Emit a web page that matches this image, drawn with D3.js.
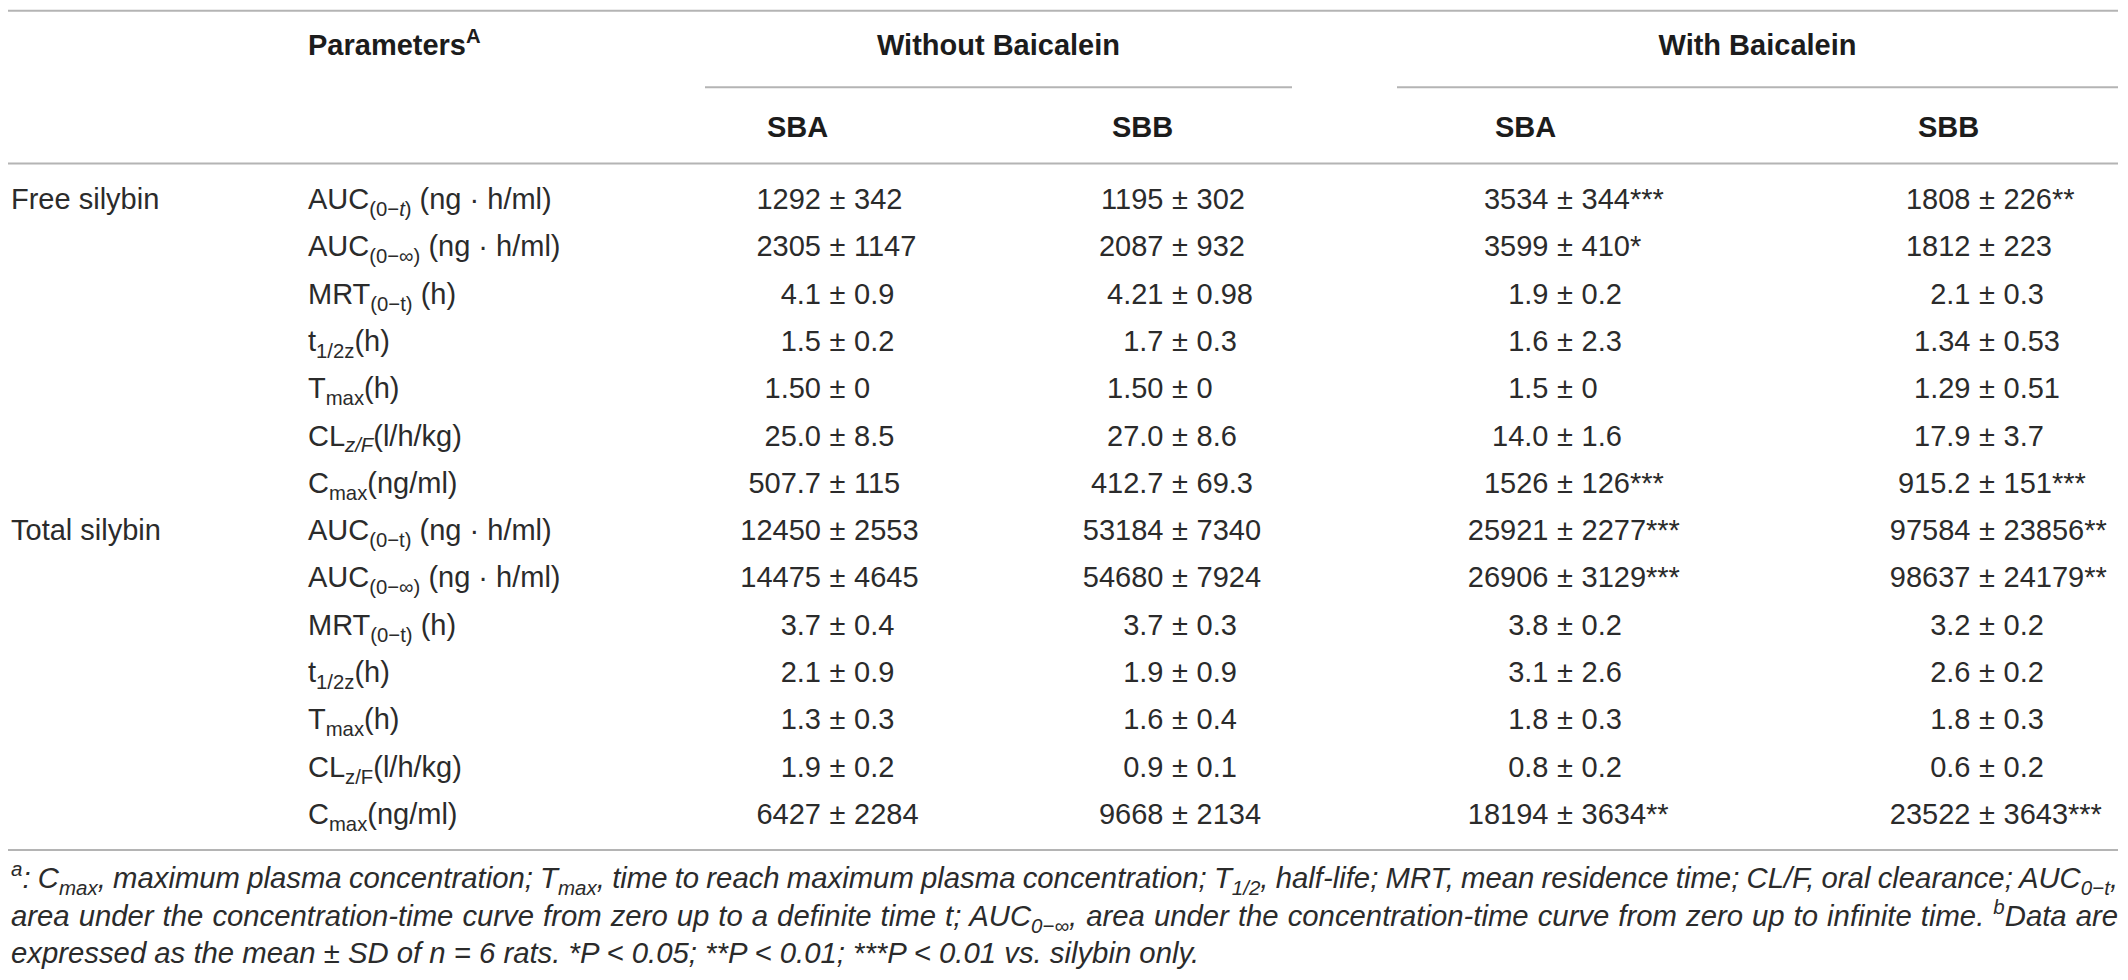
<!DOCTYPE html>
<html>
<head>
<meta charset="utf-8">
<script src="https://cdn.jsdelivr.net/npm/d3@7"></script>
<style>
  body { margin: 0; background: #fff; }
  svg text { font-family: "Liberation Sans", Arial, sans-serif; white-space: pre; }
</style>
</head>
<body>
<svg width="2128" height="980"></svg>
<script>
// table content
const groups = ['Free silybin', 'Total silybin'];
const groupStart = [0, 7];
// _{} subscript, _/{} italic subscript, ^{} superscript
const paramLabels = [
  'AUC_{(0−}_/{t}_{)} (ng · h/ml)',
  'AUC_{(0−∞)} (ng · h/ml)',
  'MRT_{(0−t)} (h)',
  't_{1/2z}(h)',
  'T_{max}(h)',
  'CL_/{z/F}(l/h/kg)',
  'C_{max}(ng/ml)',
  'AUC_{(0−t)} (ng · h/ml)',
  'AUC_{(0−∞)} (ng · h/ml)',
  'MRT_{(0−t)} (h)',
  't_{1/2z}(h)',
  'T_{max}(h)',
  'CL_{z/F}(l/h/kg)',
  'C_{max}(ng/ml)',
];
const conditions = ['Without Baicalein', 'With Baicalein'];
const columns = ['SBA', 'SBB', 'SBA', 'SBB'];

const meanWithoutSBA = ['1292', '2305', '4.1', '1.5', '1.50', '25.0', '507.7', '12450', '14475', '3.7', '2.1', '1.3', '1.9', '6427'];
const sdWithoutSBA = ['342', '1147', '0.9', '0.2', '0', '8.5', '115', '2553', '4645', '0.4', '0.9', '0.3', '0.2', '2284'];
const sigWithoutSBA = ['', '', '', '', '', '', '', '', '', '', '', '', '', ''];

const meanWithoutSBB = ['1195', '2087', '4.21', '1.7', '1.50', '27.0', '412.7', '53184', '54680', '3.7', '1.9', '1.6', '0.9', '9668'];
const sdWithoutSBB = ['302', '932', '0.98', '0.3', '0', '8.6', '69.3', '7340', '7924', '0.3', '0.9', '0.4', '0.1', '2134'];
const sigWithoutSBB = ['', '', '', '', '', '', '', '', '', '', '', '', '', ''];

const meanWithSBA = ['3534', '3599', '1.9', '1.6', '1.5', '14.0', '1526', '25921', '26906', '3.8', '3.1', '1.8', '0.8', '18194'];
const sdWithSBA = ['344', '410', '0.2', '2.3', '0', '1.6', '126', '2277', '3129', '0.2', '2.6', '0.3', '0.2', '3634'];
const sigWithSBA = ['***', '*', '', '', '', '', '***', '***', '***', '', '', '', '', '**'];

const meanWithSBB = ['1808', '1812', '2.1', '1.34', '1.29', '17.9', '915.2', '97584', '98637', '3.2', '2.6', '1.8', '0.6', '23522'];
const sdWithSBB = ['226', '223', '0.3', '0.53', '0.51', '3.7', '151', '23856', '24179', '0.2', '0.2', '0.3', '0.2', '3643'];
const sigWithSBB = ['**', '', '', '', '', '', '***', '**', '**', '', '', '', '', '***'];

const footnotes = [
  '^{a}: C_{max}, maximum plasma concentration; T_{max}, time to reach maximum plasma concentration; T_{1/2}, half-life; MRT, mean residence time; CL/F, oral clearance; AUC_{0−t},',
  'area under the concentration-time curve from zero up to a definite time t; AUC_{0−∞}, area under the concentration-time curve from zero up to infinite time. ^{b}Data are',
  'expressed as the mean ± SD of n = 6 rats. *P < 0.05; **P < 0.01; ***P < 0.01 vs. silybin only.',
];

const cells = [
  { mean: meanWithoutSBA, sd: sdWithoutSBA, sig: sigWithoutSBA },
  { mean: meanWithoutSBB, sd: sdWithoutSBB, sig: sigWithoutSBB },
  { mean: meanWithSBA, sd: sdWithSBA, sig: sigWithSBA },
  { mean: meanWithSBB, sd: sdWithSBB, sig: sigWithSBB },
];

const FS = 29;
const ink = '#2b2b2b';
const rule = '#b4b4b4';
const svg = d3.select('svg');

const rowY = d3.scaleLinear().domain([0, paramLabels.length - 1]).range([209, 824]);
const pmX = d3.scaleOrdinal().domain(d3.range(4)).range([837.5, 1180, 1565, 1987]);
const headX = d3.scaleOrdinal().domain(d3.range(4)).range([767, 1112, 1495, 1918]);
const condSpan = d3.scaleOrdinal().domain(d3.range(2)).range([[705, 1292], [1397, 2118]]);

// write a string with sub/superscripts into a text element
function rich(sel, str, size) {
  const re = /(_\/|_|\^\/|\^)\{([^}]*)\}/g;
  const parts = [];
  let last = 0, m;
  while ((m = re.exec(str))) {
    if (m.index > last) parts.push({ t: str.slice(last, m.index), k: '' });
    parts.push({ t: m[2], k: m[1] });
    last = re.lastIndex;
  }
  if (last < str.length) parts.push({ t: str.slice(last), k: '' });
  let shift = 0;
  parts.forEach((p) => {
    const sub = p.k[0] === '_', sup = p.k[0] === '^';
    const target = sub ? size * 0.24 : sup ? -size * 0.4 : 0;
    const ts = sel.append('tspan').text(p.t).attr('dy', target - shift);
    if (sub || sup) ts.attr('font-size', size * 0.7);
    if (p.k.includes('/')) ts.attr('font-style', 'italic');
    shift = target;
  });
}

// rules
const hline = (x1, x2, y) => svg.append('line')
  .attr('x1', x1).attr('x2', x2).attr('y1', y).attr('y2', y)
  .attr('stroke', rule).attr('stroke-width', 2);
hline(8, 2118, 10.7);
hline(8, 2118, 163.5);
hline(8, 2118, 850);
conditions.forEach((c, i) => hline(condSpan(i)[0], condSpan(i)[1], 87.3));

// header
const head = svg.append('g').attr('font-weight', 'bold').attr('fill', '#1c1c1c').attr('font-size', FS);
rich(head.append('text').attr('x', 308).attr('y', 55), 'Parameters^{A}', FS);
head.selectAll('.cond').data(conditions).enter().append('text')
  .attr('x', (d, i) => d3.mean(condSpan(i)))
  .attr('y', 55)
  .attr('text-anchor', 'middle')
  .text((d) => d);
head.selectAll('.col').data(columns).enter().append('text')
  .attr('x', (d, i) => headX(i))
  .attr('y', 137)
  .text((d) => d);

// body
const body = svg.append('g').attr('fill', ink).attr('font-size', FS);
body.selectAll('.grp').data(groups).enter().append('text')
  .attr('x', 11)
  .attr('y', (d, i) => rowY(groupStart[i]))
  .text((d) => d);
body.selectAll('.param').data(paramLabels).enter().append('text')
  .attr('x', 308)
  .attr('y', (d, i) => rowY(i))
  .each(function (d) { rich(d3.select(this), d, FS); });

const pmGap = FS * 0.57;
cells.forEach((col, c) => {
  const g = body.append('g');
  g.selectAll('.mean').data(col.mean).enter().append('text')
    .attr('x', pmX(c) - pmGap)
    .attr('y', (d, i) => rowY(i))
    .attr('text-anchor', 'end')
    .text((d) => d);
  g.selectAll('.pm').data(col.mean).enter().append('text')
    .attr('x', pmX(c))
    .attr('y', (d, i) => rowY(i))
    .attr('text-anchor', 'middle')
    .text('±');
  g.selectAll('.sd').data(col.sd).enter().append('text')
    .attr('x', pmX(c) + pmGap)
    .attr('y', (d, i) => rowY(i))
    .text((d, i) => d + col.sig[i]);
});

// footnote: size chosen so the last line ends where the reference does, first two justified
const footY = d3.scaleLinear().domain([0, 2]).range([888, 963]);
const probe = svg.append('text').attr('font-size', 25).attr('font-style', 'italic');
rich(probe, footnotes[2], 25);
const footFS = 25 * 1189 / probe.node().getComputedTextLength();
probe.remove();

const foot = svg.append('g').attr('fill', ink).attr('font-size', footFS).attr('font-style', 'italic');
foot.selectAll('text').data(footnotes).enter().append('text')
  .attr('x', 11)
  .attr('y', (d, i) => footY(i))
  .each(function (d, i) {
    const t = d3.select(this);
    rich(t, d, footFS);
    if (i < 2) {
      const natural = this.getComputedTextLength();
      const spaces = (d.match(/ /g) || []).length;
      t.attr('word-spacing', (2107 - natural) / spaces);
    }
  });
</script>
</body>
</html>
